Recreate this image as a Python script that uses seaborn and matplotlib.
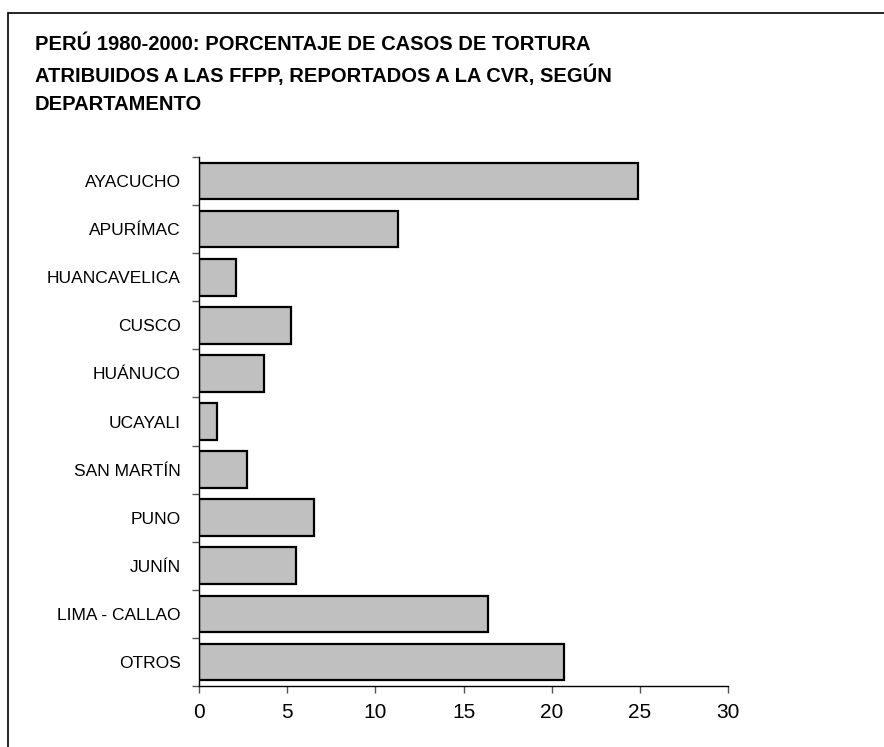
import numpy as np
import pandas as pd
import matplotlib
matplotlib.use("Agg")
import matplotlib.pyplot as plt
from matplotlib.lines import Line2D
import seaborn as sns

# datos
departamentos = ["AYACUCHO", "APURÍMAC", "HUANCAVELICA", "CUSCO", "HUÁNUCO",
                 "UCAYALI", "SAN MARTÍN", "PUNO", "JUNÍN", "LIMA - CALLAO", "OTROS"]
porcentaje = [24.9, 11.3, 2.1, 5.2, 3.7, 1.0, 2.7, 6.5, 5.5, 16.4, 20.7]
xticks = [0, 5, 10, 15, 20, 25, 30]

titulo = ("PERÚ 1980-2000: PORCENTAJE DE CASOS DE TORTURA\n"
          "ATRIBUIDOS A LAS FFPP, REPORTADOS A LA CVR, SEGÚN\n"
          "DEPARTAMENTO")

df = pd.DataFrame({"dep": departamentos, "pct": porcentaje})

sns.set_style("white", {"xtick.bottom": True, "ytick.left": True,
                        "text.color": "black", "xtick.color": "black",
                        "ytick.color": "black", "axes.edgecolor": "black"})
plt.rcParams['font.family'] = ['Liberation Sans', 'DejaVu Sans']

fig = plt.figure(figsize=(8.84, 7.47), dpi=100)
ax = fig.add_axes([199/884, 61/747, 529/884, 529/747])

sns.barplot(data=df, y="dep", x="pct", orient="h", ax=ax,
            color="#c0c0c0", saturation=1, edgecolor="black",
            linewidth=1.6, width=0.76)

ax.set_xlim(0, 30)
ax.set_ylim(len(departamentos) - 0.5, -0.5)
ax.set_xticks(xticks)
ax.set_xticklabels([str(t) for t in xticks], fontsize=15)
ax.set_xlabel("")
ax.set_ylabel("")

# etiquetas centradas, marcas entre categorias
ax.set_yticks(np.arange(len(departamentos)))
ax.set_yticklabels(departamentos, fontsize=12.5)
ax.set_yticks(np.arange(len(departamentos) + 1) - 0.5, minor=True)
ax.tick_params(axis="y", which="major", length=0, pad=13, labelcolor="black")
ax.tick_params(axis="y", which="minor", left=True, length=5, width=1,
               color="#555555", direction="out")
ax.tick_params(axis="x", bottom=True, length=5, width=1, color="#555555",
               direction="out", pad=7, labelcolor="black")

for s in ["top", "right"]:
    ax.spines[s].set_visible(False)
for s in ["left", "bottom"]:
    ax.spines[s].set_color("black")
    ax.spines[s].set_linewidth(1.0)

fig.text(35/884, 1 - 35/747, titulo, fontsize=14.5, fontweight="bold",
         color="black", va="top", ha="left", linespacing=1.6)

# marco exterior
fig.add_artist(Line2D([8/884, 1.0], [1 - 13/747, 1 - 13/747], color="black", lw=1.2,
                      transform=fig.transFigure))
fig.add_artist(Line2D([8/884, 8/884], [1 - 13/747, 0.0], color="black", lw=1.2,
                      transform=fig.transFigure))

plt.savefig("out.png", dpi=100)
plt.close()
